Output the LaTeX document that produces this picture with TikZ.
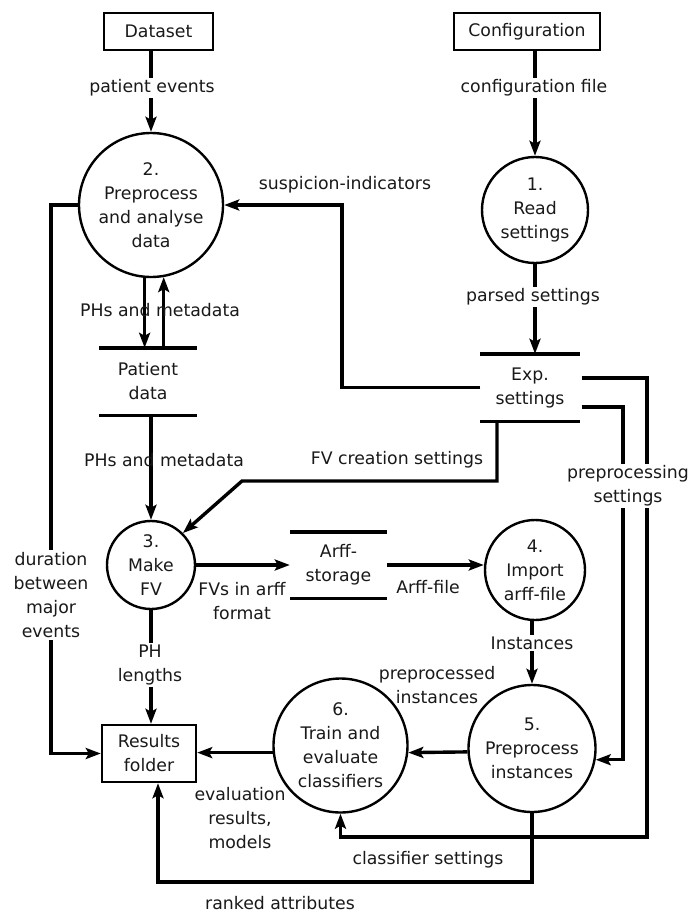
\documentclass[tikz,border=0pt]{standalone}
\usepackage{fontspec}
\setmainfont{DejaVu Sans}
\usetikzlibrary{arrows.meta}

\begin{document}
\begin{tikzpicture}[x=1pt, y=-1pt, >={Stealth[length=15pt,width=11pt,inset=3pt]},
  every node/.style={align=center, font=\fontsize{17.3}{24}\selectfont, inner sep=0pt, text=black!90},
  proc/.style={draw, circle, line width=2.4pt},
  ext/.style={draw, rectangle, line width=2.4pt},
  store/.style={rectangle},
  flow/.style={line width=3.4pt},
  lbl/.style={fill=white, inner sep=2pt}]
\useasboundingbox (0,0) rectangle (697,913);

\node[ext, minimum width=109pt, minimum height=37pt] (dset) at (158.5,31.5) {Dataset};
\node[ext, minimum width=146pt, minimum height=37pt] (conf) at (527,31.5) {Configuration};
\node[proc, minimum size=144pt] (prep) at (151,205) {2.\\Preprocess\\and analyse\\data};
\node[proc, minimum size=106pt] (read) at (535,210) {1.\\Read\\settings};
\node[store, minimum width=99pt, minimum height=67pt] (exps) at (530,387.5) {Exp.\\settings};
\node[store, minimum width=98pt, minimum height=67pt] (pdata) at (148,381.5) {Patient\\data};
\node[proc, minimum size=88pt] (mkfv) at (151,565) {3.\\Make\\FV};
\node[store, minimum width=97pt, minimum height=66pt] (arff) at (338.5,565) {Arff-\\storage};
\node[proc, minimum size=100pt] (imp) at (535,570) {4.\\Import\\arff-file};
\node[proc, minimum size=127pt] (ppi) at (532,748.5) {5.\\Preprocess\\instances};
\node[proc, minimum size=134pt] (train) at (340.5,745.5) {6.\\Train and\\evaluate\\classifiers};
\node[ext, minimum width=94pt, minimum height=57pt] (res) at (149,753.5) {Results\\folder};

% data stores
\foreach \s in {exps,pdata,arff}
  \draw[flow] (\s.north west) -- (\s.north east) (\s.south west) -- (\s.south east);

\coordinate (fvc) at (497,481);
\coordinate (rk) at (158,882);

\draw[flow,->] (prep.north |- dset.south) -- (prep.north);
\draw[flow,->] (read.north |- conf.south) -- (read.north);
\draw[flow,->] (read.south) -- (read.south |- exps.north);
\draw[flow,->] (exps.west) -| (342,205) -- (prep.east);
\draw[flow,->] (prep.west) -- (51,205) |- (res.west);
\draw[flow,->] (prep.265) -- (prep.265 |- pdata.north);
\draw[flow,->] (prep.280 |- pdata.north) -- (prep.280);
\draw[flow,->] (mkfv.north |- pdata.south) -- (mkfv.north);
\draw[flow,->] (fvc |- exps.south) -- (fvc) -- (242,481) -- (mkfv.north east);
\draw[flow,->] (mkfv.east) -- (arff.west);
\draw[flow,->] (arff.east) -- (arff.east -| imp.west);
\draw[flow,->] (mkfv.south) -- (mkfv.south |- res.north);
\draw[flow,->] (ppi.north |- imp.south) -- (ppi.north);
\draw[flow,->] (ppi.183) -- (train.354);
\draw[flow,->] (train.186) -- (train.186 -| res.east);
\draw[flow,->] ([xshift=2pt,yshift=-19.5pt]exps.east) -- (623,407) |- (ppi.350);
\draw[flow,->] ([xshift=2pt,yshift=9.5pt]exps.east) -- (647,378) -- (647,837) -| (train.south);
\draw[flow,->] (ppi.south) |- (rk) -- (rk |- res.south);

% flow labels
\node[lbl] (l-pe) at (152,88) {patient events};
\node[lbl] (l-cf) at (534,88) {configuration file};
\node (l-si) at (345,185) {suspicion-indicators};
\node[lbl] (l-ps) at (533,297) {parsed settings};
\node (l-pm1) at (160,310) {PHs and metadata};
\node (l-pm2) at (164,460) {PHs and metadata};
\node (l-fvc) at (397,460) {FV creation settings};
\node[lbl] (l-prs) at (628,486) {preprocessing\\settings};
\node[lbl] (l-dur) at (51,595) {duration\\between\\major\\events};
\node (l-fva) at (242,601) {FVs in arff\\format};
\node (l-af) at (428,587) {Arff-file};
\node[lbl] (l-ins) at (532,643) {Instances};
\node[lbl] (l-phl) at (150,665) {PH\\lengths};
\node (l-ppi) at (437,685) {preprocessed\\instances};
\node (l-ev) at (240,818) {evaluation\\results,\\models};
\node (l-cs) at (428,860) {classifier settings};
\node (l-ra) at (280,903) {ranked attributes};
\end{tikzpicture}
\end{document}
